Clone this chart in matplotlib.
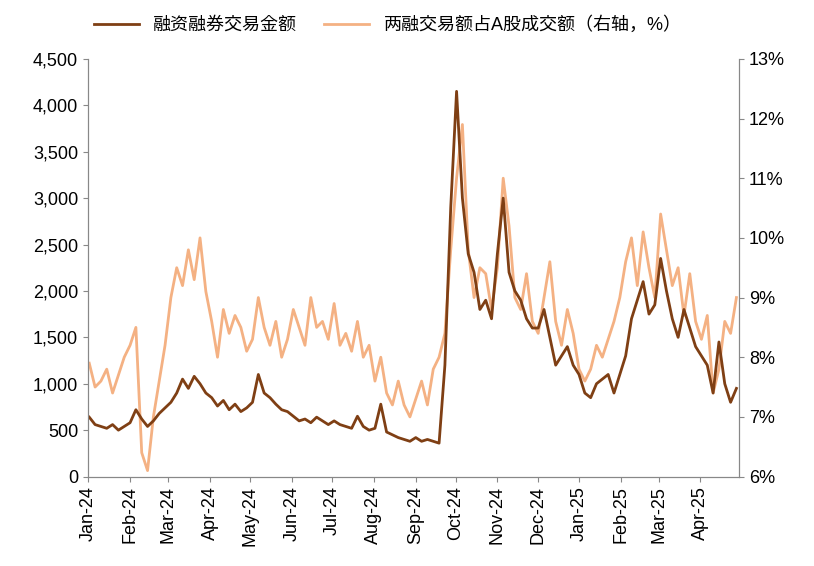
import matplotlib
matplotlib.use("Agg")
import matplotlib.pyplot as plt
import matplotlib.dates as mdates
import pandas as pd

plt.rcParams["font.family"] = ["Liberation Sans", "Noto Sans CJK SC", "Noto Sans CJK JP", "Noto Sans CJK TC"]

amount = [640,560,540,520,560,500,540,
          580,720,620,540,600,680,740,
          800,900,1050,950,1080,1000,900,
          850,760,820,720,780,700,740,
          800,1100,900,850,780,720,700,
          650,600,620,580,640,600,560,
          600,560,540,520,650,540,500,
          520,780,480,450,420,400,380,
          420,380,400,380,360,1200,2900,
          4150,3000,2400,2200,1800,1900,1700,
          2400,3000,2200,2000,1900,1700,1600,
          1600,1800,1500,1200,1300,1400,1200,
          1100,900,850,1000,1050,1100,900,
          1100,1300,1700,1900,2100,1750,1850,
          2350,2000,1700,1500,1800,1600,1400,
          1300,1200,900,1450,1000,800,950]
share = [7.9,7.5,7.6,7.8,7.4,7.7,8.0,
         8.2,8.5,6.4,6.1,7.0,7.6,8.2,
         9.0,9.5,9.2,9.8,9.3,10.0,9.1,
         8.6,8.0,8.8,8.4,8.7,8.5,8.1,
         8.3,9.0,8.5,8.2,8.6,8.0,8.3,
         8.8,8.5,8.2,9.0,8.5,8.6,8.3,
         8.9,8.2,8.4,8.1,8.6,8.0,8.2,
         7.6,8.0,7.4,7.2,7.6,7.2,7.0,
         7.3,7.6,7.2,7.8,8.0,8.4,9.8,
         11.0,11.9,9.8,9.0,9.5,9.4,8.8,
         9.5,11.0,10.2,9.0,8.8,9.4,8.6,
         8.4,9.0,9.6,8.6,8.2,8.8,8.4,
         7.8,7.6,7.8,8.2,8.0,8.3,8.6,
         9.0,9.6,10.0,9.2,10.1,9.5,9.0,
         10.4,9.8,9.2,9.5,8.7,9.4,8.6,
         8.3,8.7,7.4,7.8,8.6,8.4,9.0]
dates = pd.date_range("2024-01-02", "2025-04-28", periods=len(amount))
labels = ["融资融券交易金额", "两融交易额占A股成交额（右轴，%）"]

fig = plt.figure(figsize=(8.14, 5.66), dpi=100)
ax = fig.add_axes([0.108, 0.158, 0.8, 0.738])
ax2 = ax.twinx()
c1, c2 = "#7F3F14", "#F4B183"
l2, = ax2.plot(dates, share, color=c2, lw=2)
l1, = ax.plot(dates, amount, color=c1, lw=2)
ax.set_zorder(ax2.get_zorder() + 1); ax.patch.set_visible(False)
ax.set_ylim(0, 4500); ax.set_yticks(range(0, 4501, 500))
ax.set_yticklabels([f"{v:,}" for v in range(0, 4501, 500)])
ax2.set_ylim(6, 13); ax2.set_yticks(range(6, 14))
ax2.set_yticklabels([f"{v}%" for v in range(6, 14)])
ax.set_xlim(pd.Timestamp("2024-01-01"), pd.Timestamp("2025-04-30"))
ax.xaxis.set_major_locator(mdates.MonthLocator())
ax.xaxis.set_major_formatter(mdates.DateFormatter("%b-%y"))
for a in (ax, ax2):
    a.tick_params(labelsize=13, color="#888888")
    a.spines["top"].set_visible(False)
    for s in a.spines.values():
        s.set_color("#888888")
ax.tick_params(axis="x", rotation=90)
fig.legend([l1, l2], labels, loc="upper left", bbox_to_anchor=(0.095, 1.0), ncol=2,
           frameon=False, fontsize=13, handlelength=2.5, columnspacing=1.5)
fig.savefig("out.png")
